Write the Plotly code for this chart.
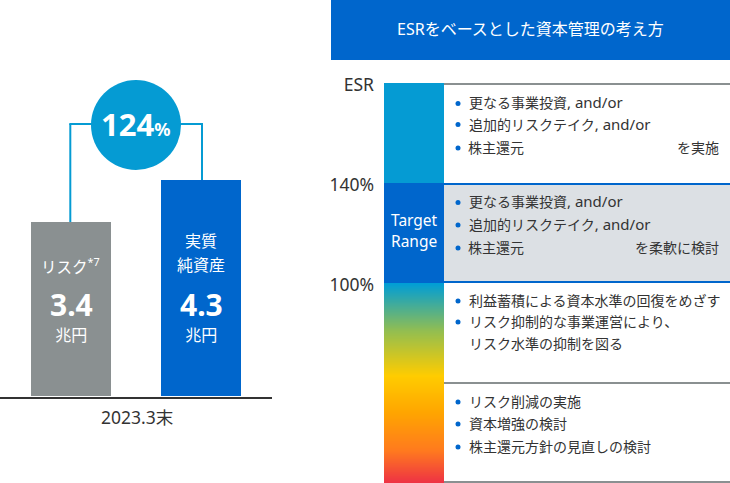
import numpy as np
import plotly.graph_objects as go

W, H = 730, 483
FONT = "Noto Sans, Noto Sans CJK JP"
BLUE = "#0066CC"
CYAN = "#059BD3"
GRAY = "#8A9091"
TEXT = "#333333"

# --- data ---
bar_categories = ["リスク", "実質純資産"]
bar_values = [3.44, 4.27]  # trillion yen (printed 3.4 / 4.3)
bar_labels = ["3.4", "4.3"]
bar_colors = [GRAY, BLUE]
period_label = "2023.3末"
ratio_label = "124"
esr_ticks = [180, 140, 100]
esr_ticktext = ["ESR", "140%", "100%"]
band_bases = [140, 100]
band_sizes = [40, 40]
band_colors = [CYAN, BLUE]
gradient_stops = [[0, "#EE3344"], [0.16, "#FF7A1E"], [0.35, "#FFA500"], [0.535, "#FFCC00"], [0.76, "#93BE50"], [1, "#009DD6"]]
title_text = "ESRをベースとした資本管理の考え方"
AO = "<span style='font-size:15px'>, and/or</span>"
rows = [
    (103.5, "更なる事業投資" + AO), (124.5, "追加的リスクテイク" + AO), (148, "株主還元"),
    (202.5, "更なる事業投資" + AO), (225, "追加的リスクテイク" + AO), (248, "株主還元"),
    (301, "利益蓄積による資本水準の回復をめざす"), (322, "リスク抑制的な事業運営により、"),
    (402, "リスク削減の実施"), (424, "資本増強の検討"), (447, "株主還元方針の見直しの検討"),
]
continuation = (344, "リスク水準の抑制を図る")
right_notes = [(148, "を実施"), (248, "を柔軟に検討")]


def px(x):
    return x / W


def py(y):
    return 1 - y / H


fig = go.Figure()

# left bars
fig.add_trace(go.Bar(x=[0, 1], y=bar_values, marker=dict(color=bar_colors, line_width=0), width=80 / 130,
                     xaxis="x", yaxis="y", hoverinfo="skip", showlegend=False))

# ESR column
fig.add_trace(go.Heatmap(x=[0], y=np.linspace(20, 100, 200), z=np.linspace(0, 1, 200)[:, None],
                         colorscale=gradient_stops, showscale=False, xaxis="x2", yaxis="y2",
                         xgap=0, ygap=0, hoverinfo="skip", zmin=0, zmax=1))
fig.add_trace(go.Bar(x=[0, 0], y=band_sizes, base=band_bases, marker=dict(color=band_colors, line_width=0), width=1,
                     xaxis="x2", yaxis="y2", hoverinfo="skip", showlegend=False))

shapes = []


def rect(x0, y0, x1, y1, color):
    shapes.append(dict(type="rect", xref="paper", yref="paper", x0=px(x0), x1=px(x1), y0=py(y0), y1=py(y1),
                       fillcolor=color, line_width=0, layer="below"))


def line(x0, y0, x1, y1, color, w=2):
    shapes.append(dict(type="line", xref="paper", yref="paper", x0=px(x0), x1=px(x1), y0=py(y0), y1=py(y1),
                       line=dict(color=color, width=w), layer="below"))


# header, panels and rules
rect(331, 0, 730, 60, BLUE)
rect(444, 185, 730, 281, "#DCE0E4")
line(444, 84, 730, 84, GRAY)
line(444, 184, 730, 184, BLUE)
line(444, 282, 730, 282, BLUE)
line(444, 383, 730, 383, GRAY)
line(444, 482, 730, 482, GRAY)
# baseline
line(0, 398, 272, 398, TEXT)
# connector
line(70.3, 222, 70.3, 124, CYAN)
line(69.3, 124, 100, 124, CYAN)
line(202, 180, 202, 124, CYAN)
line(170, 124, 203, 124, CYAN)
# circle
shapes.append(dict(type="circle", xref="paper", yref="paper", x0=px(91), x1=px(181), y0=py(80), y1=py(170),
                   fillcolor=CYAN, line_width=0, layer="above"))
# bullets
for y, _ in rows:
    shapes.append(dict(type="circle", xref="paper", yref="paper", x0=px(455.5), x1=px(460.5),
                       y0=py(y + 2.5), y1=py(y - 2.5), fillcolor=BLUE, line_width=0, layer="above"))

annotations = []


def text(x, y, s, size, color=TEXT, anchor="center"):
    annotations.append(dict(xref="paper", yref="paper", x=px(x), y=py(y), text=s, showarrow=False,
                            xanchor=anchor, yanchor="middle", align=anchor,
                            font=dict(family=FONT, size=size, color=color)))


def value_block(x, label):
    # number and unit share one annotation, so their line boxes cannot collide
    s = f"<b style='font-size:30px'>{label}</b><br><span style='font-size:16px'>兆円</span>"
    text(x, 315, s, 19.5, "white")


text(530.5, 29.5, title_text, 16, "white")
text(135, 124, f"<b>{ratio_label}</b><b style='font-size:18px'>%</b>", 31, "white")
text(70.5, 266, "リスク<sup>*7</sup>", 15.5, "white")
value_block(71.5, bar_labels[0])
text(201, 241, "実質", 16, "white")
text(201, 265, "純資産", 16, "white")
value_block(201.5, bar_labels[1])
text(137, 417, period_label, 17.5)
text(414, 220, "Target", 15.5, "white")
text(414, 241, "Range", 15.5, "white")
for y, s in rows:
    text(466.5, y - 1, s, 14, anchor="left")
text(466.5, continuation[0] - 1, continuation[1], 14, anchor="left")
for y, s in right_notes:
    text(721, y - 1, s, 14, anchor="right")

fig.update_layout(
    width=W, height=H, margin=dict(l=0, r=0, t=0, b=0), autosize=False,
    paper_bgcolor="white", plot_bgcolor="rgba(0,0,0,0)", showlegend=False, barmode="overlay",
    font=dict(family=FONT, color=TEXT),
    shapes=shapes, annotations=annotations,
    xaxis=dict(domain=[0, px(272)], range=[-71 / 130, 201 / 130], visible=False, fixedrange=True, automargin=False),
    yaxis=dict(domain=[py(396), py(0)], range=[0, 396 / 50.6], visible=False, fixedrange=True, automargin=False),
    xaxis2=dict(domain=[px(384), px(444)], range=[-0.5, 0.5], visible=False, anchor="y2", fixedrange=True, automargin=False),
    yaxis2=dict(domain=[py(483), py(83)], range=[20, 180], anchor="x2", showgrid=False, zeroline=False, automargin=False,
                tickmode="array", tickvals=esr_ticks, ticktext=esr_ticktext, ticks="", showline=False,
                ticklabelstandoff=9, ticklabelshift=2, tickfont=dict(family=FONT, size=17.5, color=TEXT), fixedrange=True),
)

fig.write_html("out.html", config=dict(displayModeBar=False),
               post_script="document.body.style.margin='0';")
